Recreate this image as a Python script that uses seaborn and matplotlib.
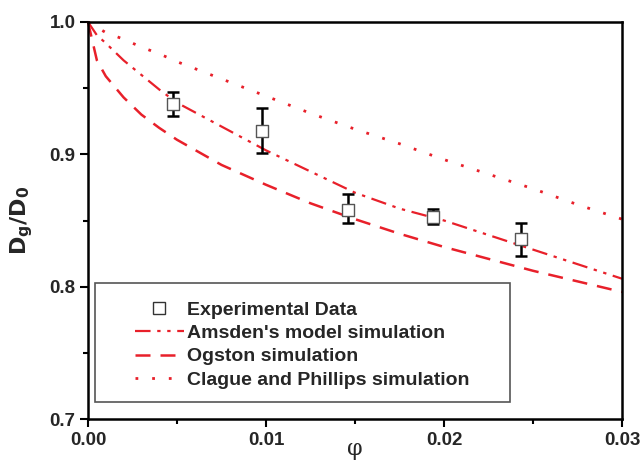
import matplotlib
matplotlib.use("Agg")
import matplotlib.pyplot as plt
import seaborn as sns
import pandas as pd
from matplotlib.patches import Rectangle
from matplotlib.lines import Line2D
from matplotlib.ticker import MultipleLocator, FormatStrFormatter

# Experimental data
exp_phi = [0.0048, 0.0098, 0.0146, 0.0194, 0.0243]
exp_d = [0.938, 0.918, 0.858, 0.853, 0.836]
exp_err_low = [0.009, 0.017, 0.010, 0.006, 0.013]
exp_err_high = [0.009, 0.017, 0.012, 0.006, 0.012]

# Simulation curves
sim_phi = [0.0, 0.0005, 0.001, 0.002, 0.003, 0.004, 0.005, 0.0075, 0.01,
           0.0125, 0.015, 0.0175, 0.02, 0.0225, 0.025, 0.0275, 0.03]
amsden = [1.0, 0.990, 0.984, 0.971, 0.960, 0.949, 0.939, 0.921, 0.903,
          0.887, 0.871, 0.859, 0.850, 0.839, 0.828, 0.817, 0.806]
ogston = [1.0, 0.971, 0.959, 0.943, 0.930, 0.920, 0.911, 0.892, 0.877,
          0.863, 0.851, 0.840, 0.830, 0.821, 0.812, 0.804, 0.796]
clague = [1.0, 0.996, 0.992, 0.987, 0.981, 0.976, 0.970, 0.957, 0.944,
          0.931, 0.919, 0.908, 0.896, 0.885, 0.874, 0.862, 0.851]

labels = ["Experimental Data", "Amsden's model simulation",
          "Ogston simulation", "Clague and Phillips simulation"]

sns.set_theme(style="white")
plt.rcParams['font.family'] = ['Liberation Sans', 'DejaVu Sans']
plt.rcParams['mathtext.fontset'] = 'dejavusans'

fig = plt.figure(figsize=(6.4, 4.63), dpi=100)
ax = fig.add_axes([0.1375, 0.095, 0.8345, 0.8575])

red = "#e8202a"
sim_df = pd.DataFrame({"phi": sim_phi, "amsden": amsden,
                       "ogston": ogston, "clague": clague})

sns.lineplot(data=sim_df, x="phi", y="amsden", ax=ax, color=red,
             lw=1.6, label=labels[1])
ax.lines[-1].set_dashes([7, 3, 1.5, 3, 1.5, 3])
sns.lineplot(data=sim_df, x="phi", y="ogston", ax=ax, color=red,
             lw=1.8, label=labels[2])
ax.lines[-1].set_dashes([6, 4])
sns.lineplot(data=sim_df, x="phi", y="clague", ax=ax, color=red,
             lw=2.0, label=labels[3])
ax.lines[-1].set_dashes([1, 5])
for ln in ax.lines:
    ln.set_clip_on(False)

ax.errorbar(exp_phi, exp_d, yerr=[exp_err_low, exp_err_high], fmt="none",
            ecolor="black", elinewidth=1.8, capsize=4, capthick=1.8, zorder=4)
exp_df = pd.DataFrame({"phi": exp_phi, "d": exp_d})
sns.scatterplot(data=exp_df, x="phi", y="d", ax=ax, marker="s", s=70,
                facecolor="white", edgecolor="#555555", linewidth=1.0,
                zorder=5, label=labels[0])

ax.set_xlim(0, 0.03)
ax.set_ylim(0.7, 1.0)
ax.xaxis.set_major_locator(MultipleLocator(0.01))
ax.xaxis.set_minor_locator(MultipleLocator(0.005))
ax.yaxis.set_major_locator(MultipleLocator(0.1))
ax.yaxis.set_minor_locator(MultipleLocator(0.05))
ax.xaxis.set_major_formatter(FormatStrFormatter('%.2f'))
ax.yaxis.set_major_formatter(FormatStrFormatter('%.1f'))
ax.tick_params(which="both", direction="out", bottom=True, left=True,
               top=False, right=False, color="black", width=1.5)
ax.tick_params(which="major", length=6, labelsize=13.5, pad=3)
ax.tick_params(which="minor", length=3.5)
for lab in ax.get_xticklabels() + ax.get_yticklabels():
    lab.set_fontweight("bold")
for sp in ax.spines.values():
    sp.set_color("black")
    sp.set_linewidth(1.8)

ax.set_xlabel("φ", fontsize=16, family=['DejaVu Serif'])
ax.xaxis.set_label_coords(0.5, -0.048)
ax.set_ylabel(r"$\mathbf{D_g/D_0}$", fontsize=16, labelpad=10)

# legend frame
rect = Rectangle((0.013, 0.043), 0.777, 0.300, transform=ax.transAxes,
                 facecolor="white", edgecolor="#555555", lw=1.2, zorder=6)
ax.add_patch(rect)

handles = [
    Line2D([], [], ls="none", marker="s", markersize=8, markerfacecolor="white",
           markeredgecolor="#333333", markeredgewidth=1.0),
    Line2D([], [], color=red, lw=1.6, dashes=[7, 3, 1.5, 3, 1.5, 3]),
    Line2D([], [], color=red, lw=1.8, dashes=[6, 4]),
    Line2D([], [], color=red, lw=2.0, dashes=[1, 5]),
]
leg = ax.legend(handles, labels, loc="upper left",
                bbox_to_anchor=(0.07, 0.322), frameon=False,
                prop={"weight": "bold", "size": 14}, handlelength=2.5,
                handletextpad=0.15, labelspacing=0.3, borderpad=0.0)
leg.set_zorder(7)

fig.savefig("out.png", dpi=100)
